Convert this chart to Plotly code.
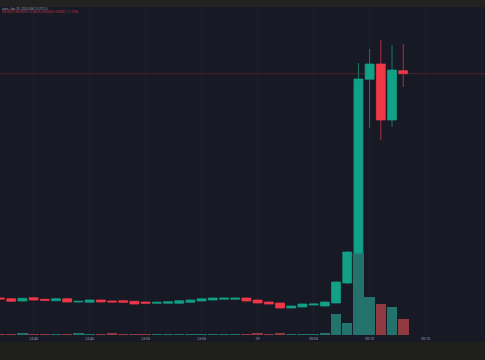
import plotly.graph_objects as go

# ---- data ----
times = ["2025-01-28 23:37", "2025-01-28 23:38", "2025-01-28 23:39", "2025-01-28 23:40",
         "2025-01-28 23:41", "2025-01-28 23:42", "2025-01-28 23:43", "2025-01-28 23:44",
         "2025-01-28 23:45", "2025-01-28 23:46", "2025-01-28 23:47", "2025-01-28 23:48",
         "2025-01-28 23:49", "2025-01-28 23:50", "2025-01-28 23:51", "2025-01-28 23:52",
         "2025-01-28 23:53", "2025-01-28 23:54", "2025-01-28 23:55", "2025-01-28 23:56",
         "2025-01-28 23:57", "2025-01-28 23:58", "2025-01-28 23:59", "2025-01-29 00:00",
         "2025-01-29 00:01", "2025-01-29 00:02", "2025-01-29 00:03", "2025-01-29 00:04",
         "2025-01-29 00:05", "2025-01-29 00:06", "2025-01-29 00:07", "2025-01-29 00:08",
         "2025-01-29 00:09", "2025-01-29 00:10", "2025-01-29 00:11", "2025-01-29 00:12",
         "2025-01-29 00:13"]
opens = [3.70, 3.63, 3.40, 3.73, 3.57, 3.43, 3.63, 3.30, 3.27, 3.50, 3.40, 3.43, 3.37,
         3.30, 3.17, 3.17, 3.17, 3.27, 3.40, 3.50, 3.57, 3.57, 3.70, 3.50, 3.30, 3.20,
         2.70, 2.80, 3.00, 2.90, 3.20, 5.20, 8.20, 25.57, 27.10, 21.50, 26.43]
highs = [3.75, 3.70, 3.72, 3.78, 3.62, 3.66, 3.68, 3.40, 3.55, 3.53, 3.44, 3.47, 3.40,
         3.33, 3.30, 3.36, 3.46, 3.53, 3.66, 3.73, 3.73, 3.73, 3.74, 3.54, 3.34, 3.24,
         2.94, 3.14, 3.14, 3.34, 5.40, 8.40, 27.20, 28.60, 29.50, 29.00, 29.10]
lows = [3.55, 3.30, 3.36, 3.45, 3.42, 3.40, 3.26, 3.25, 3.24, 3.26, 3.27, 3.24, 3.06,
        3.14, 3.14, 3.14, 3.14, 3.24, 3.37, 3.47, 3.54, 3.54, 3.37, 3.17, 3.07, 2.67,
        2.67, 2.77, 2.97, 2.87, 3.17, 5.10, 8.10, 20.73, 19.50, 20.83, 24.80]
closes = [3.60, 3.37, 3.67, 3.50, 3.47, 3.63, 3.30, 3.37, 3.50, 3.30, 3.30, 3.27, 3.10,
          3.17, 3.27, 3.33, 3.43, 3.50, 3.63, 3.70, 3.70, 3.70, 3.40, 3.20, 3.10, 2.70,
          2.90, 3.10, 3.10, 3.30, 5.30, 8.30, 25.60, 27.10, 21.50, 26.50, 26.13]
volumes = [400, 600, 1500, 500, 400, 500, 600, 1600, 500, 500, 1200, 500, 600, 400, 400,
           400, 400, 400, 400, 400, 500, 400, 500, 1200, 500, 1400, 500, 500, 800, 1200,
           21000, 12000, 82000, 38000, 31000, 28500, 16000]

tick_vals = ["2025-01-28 23:40", "2025-01-28 23:45", "2025-01-28 23:50", "2025-01-28 23:55",
             "2025-01-29 00:00", "2025-01-29 00:05", "2025-01-29 00:10", "2025-01-29 00:15",
             "2025-01-29 00:20"]
tick_text = ["23:40", "23:45", "23:50", "23:55", "29", "00:05", "00:10", "00:15", "00:20"]

title_line1 = "coin, Jan 29, 2025 08:13 UTC-3"
title_line2 = "O0.0027 H0.0029 L0.0025 C0.0026 -0.0001 (-1.13%)"

# ---- styles ----
UP = "#12a086"
DOWN = "#f03849"
UP_VOL = "#23736c"
DOWN_VOL = "#8e3a40"
BG = "#171a25"

vol_colors = [UP_VOL if c >= o else DOWN_VOL for o, c in zip(opens, closes)]

fig = go.Figure()
fig.add_trace(go.Bar(
    x=times, y=volumes, marker=dict(color=vol_colors, line=dict(width=0)),
    width=60000 * 0.94, yaxis="y", hoverinfo="skip", showlegend=False))
fig.add_trace(go.Candlestick(
    x=times, open=opens, high=highs, low=lows, close=closes,
    increasing=dict(line=dict(color=UP, width=0.7), fillcolor=UP),
    decreasing=dict(line=dict(color=DOWN, width=0.7), fillcolor=DOWN),
    yaxis="y2", showlegend=False))

fig.add_shape(type="line", xref="paper", x0=0, x1=1, yref="y2", y0=closes[-1], y1=closes[-1],
              line=dict(color="rgba(242,54,69,0.25)", width=1), layer="below")
# top toolbar strip and bottom strip
fig.add_shape(type="rect", xref="paper", yref="paper", x0=0, x1=1, y0=1, y1=1 + 8 / 328,
              fillcolor="#222222", line=dict(width=0), layer="above")
fig.add_shape(type="rect", xref="paper", yref="paper", x0=0, x1=1, y0=-7 / 328, y1=-26 / 328,
              fillcolor="#1f1f1c", line=dict(width=0), layer="above")

fig.add_annotation(text=title_line1, xref="paper", yref="paper", x=0.0, y=1 - 2.5 / 328,
                   xanchor="left", yanchor="middle", showarrow=False,
                   font=dict(size=3.3, color="#9a9ca6", family="Roboto"))
fig.add_annotation(text=title_line2, xref="paper", yref="paper", x=0.0, y=1 - 5.5 / 328,
                   xanchor="left", yanchor="middle", showarrow=False,
                   font=dict(size=3.3, color="#c2334a", family="Roboto"))

fig.update_layout(
    width=485, height=360,
    margin=dict(l=0, r=0, t=7, b=25),
    paper_bgcolor=BG, plot_bgcolor=BG,
    boxgap=0.2, boxgroupgap=0,
    bargap=0,
    xaxis=dict(type="date", range=["2025-01-28 23:37:00", "2025-01-29 00:20:18"],
               rangeslider=dict(visible=False), tickvals=tick_vals, ticktext=tick_text,
               showgrid=True, gridcolor="rgba(255,255,255,0.03)", gridwidth=1,
               zeroline=False, showline=False, ticks="", ticklabelstandoff=0,
               tickfont=dict(size=3.6, color="#9ea1aa", family="Roboto")),
    yaxis=dict(range=[0, 328000], visible=False, showgrid=False, fixedrange=True),
    yaxis2=dict(range=[0, 32.8], overlaying="y", visible=False, showgrid=False),
    showlegend=False,
)

fig.write_html("out.html")
